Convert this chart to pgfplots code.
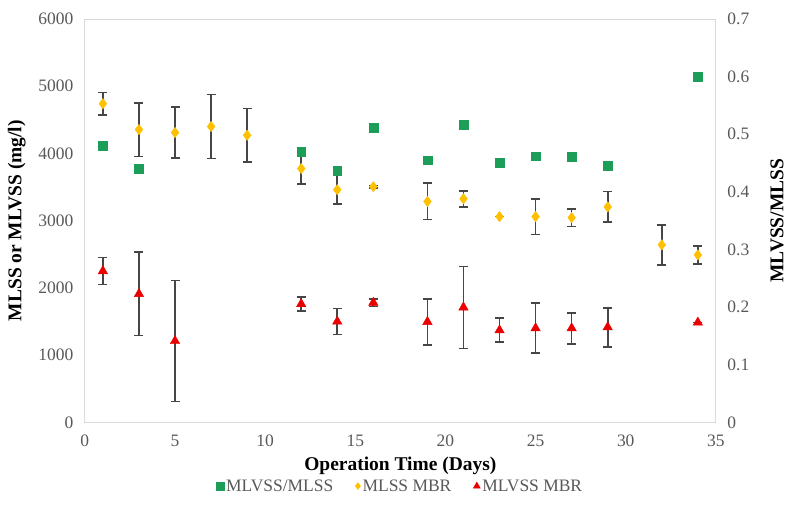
\documentclass[border=0pt]{standalone}
\usepackage{pgfplots}
\pgfplotsset{compat=1.18}
\usepackage{fontspec}
\setmainfont{Liberation Serif}
\definecolor{sqgreen}{RGB}{28,158,88}
\definecolor{dyellow}{RGB}{255,192,0}
\definecolor{tred}{RGB}{235,0,0}
\definecolor{errgray}{RGB}{70,70,70}
\definecolor{framegray}{RGB}{217,217,217}
\definecolor{tickgray}{RGB}{89,89,89}
\begin{document}
\begin{tikzpicture}
\pgfplotsset{
  every axis/.append style={
    scale only axis, width=632pt, height=404pt,
    xmin=0, xmax=35,
    tick style={draw=none},
    /pgf/number format/assume math mode=true,
    /pgf/number format/1000 sep={},
    ticklabel style={font=\fontsize{17.5}{20}\selectfont, text=tickgray},
    label style={font=\bfseries\fontsize{19.5}{22}\selectfont, text=black},
  },
  errbar/.style={
    error bars/.cd, y dir=both, y explicit,
    error bar style={color=errgray, line width=1.7pt},
    error mark options={rotate=90, mark size=4.5pt, line width=1.7pt, color=errgray},
    /pgfplots/.cd,
  },
}
\begin{axis}[
  name=main,
  ymin=0, ymax=6000,
  ytick={0,1000,2000,3000,4000,5000,6000},
  xtick={0,5,10,15,20,25,30,35},
  axis line style={draw=framegray, line width=0.8pt},
  xlabel={Operation Time (Days)},
  ylabel={MLSS or MLVSS (mg/l)},
  xlabel style={at={(axis description cs:0.5,-0.109)}, anchor=center},
  ylabel style={at={(axis description cs:-0.108,0.5)}, anchor=center},
  xticklabel style={yshift=-9pt},
  yticklabel style={xshift=-8pt},
  legend columns=3,
  legend style={at={(axis description cs:0.5,-0.158)}, anchor=center, draw=none,
    font=\fontsize{17.5}{20}\selectfont, text=tickgray,
    /tikz/every even column/.append style={column sep=20pt}},
  legend cell align=left,
]
\addlegendimage{only marks, mark=square*, mark size=3.8pt, color=sqgreen}
\addlegendentry{MLVSS/MLSS}
\addlegendimage{only marks, mark=diamond*, mark size=3.5pt, color=dyellow}
\addlegendentry{MLSS MBR}
\addlegendimage{only marks, mark=triangle*, mark size=4pt, color=tred}
\addlegendentry{MLVSS MBR}
% MLSS MBR
\addplot[only marks, mark=diamond*, mark size=5.2pt, color=dyellow, errbar, forget plot]
  table[x=x, y=y, y error=e] {
x y e
1 4740 165
3 4355 400
5 4310 380
7 4400 475
9 4270 400
12 3775 225
14 3460 210
16 3505 20
19 3285 270
21 3325 120
23 3060 0
25 3060 267
27 3045 133
29 3205 230
32 2640 297
34 2490 130
};
% MLVSS MBR
\addplot[only marks, mark=triangle*, mark size=5.5pt, color=tred, errbar, forget plot]
  table[x=x, y=y, y error=e] {
x y e
1 2250 200
3 1910 620
5 1210 900
12 1760 100
14 1500 195
16 1780 55
19 1495 340
21 1710 610
23 1370 180
25 1400 370
27 1400 230
29 1415 290
34 1485 0
};
\end{axis}
\begin{axis}[
  axis y line*=right,
  axis x line=none,
  ymin=0, ymax=0.7,
  ytick={0,0.1,0.2,0.3,0.4,0.5,0.6,0.7},
  yticklabels={0,0.1,0.2,0.3,0.4,0.5,0.6,0.7},
  axis line style={draw=none},
  ylabel={MLVSS/MLSS},
  ylabel style={at={(axis description cs:1.097,0.5)}, anchor=center, rotate=0},
  yticklabel style={xshift=8pt},
]
\addplot[only marks, mark=square*, mark size=4.4pt, color=sqgreen]
  table[x=x, y=y] {
x y
1 0.480
3 0.440
12 0.470
14 0.437
16 0.511
19 0.455
21 0.516
23 0.451
25 0.462
27 0.461
29 0.446
34 0.600
};
\end{axis}
\path (main.south west) ++(-85pt,-95pt) coordinate (bbA);
\path (main.north east) ++(70pt,19pt) coordinate (bbB);
\path (bbA) rectangle (bbB);
\end{tikzpicture}
\end{document}
